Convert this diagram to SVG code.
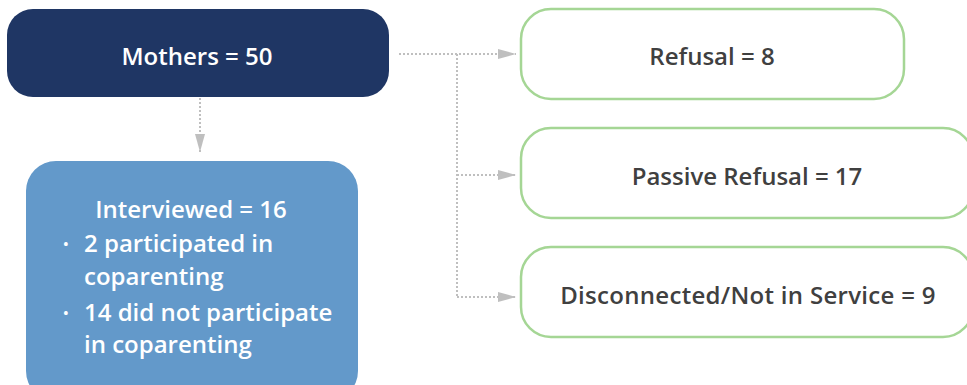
<svg xmlns="http://www.w3.org/2000/svg" width="967" height="385" viewBox="0 0 967 385">
<defs>
<style>
.t{font-family:"Open Sans","Lato","Liberation Sans",sans-serif;font-weight:600;font-size:24px}
.b{font-family:"Open Sans","Liberation Sans",sans-serif;font-weight:600;font-size:15px}
.w{fill:#ffffff}
.g{fill:#404040}
.out{fill:#ffffff;stroke:#A5D695;stroke-width:2.5}
.con{fill:none;stroke:#BFBFBF;stroke-width:2;stroke-dasharray:2 2}
</style>
<marker id="ah" viewBox="0 0 18 10" refX="18" refY="5" markerWidth="18" markerHeight="10" markerUnits="userSpaceOnUse" orient="auto">
<path d="M0,0 L18,5 L0,10 Z" fill="#BFBFBF"/>
</marker>
</defs>
<g id="connectors">
<path class="con" d="M200,98 V152" marker-end="url(#ah)"/>
<path class="con" d="M399,54 H516" marker-end="url(#ah)"/>
<path class="con" d="M457,54 V297" />
<path class="con" d="M457,175 H516" marker-end="url(#ah)"/>
<path class="con" d="M457,297 H516" marker-end="url(#ah)"/>
</g>
<g id="mothers">
<rect x="7" y="9" width="382" height="88" rx="26" fill="#1F3664"/>
<text class="t w" x="197" y="65" text-anchor="middle">Mothers = 50</text>
</g>
<g id="interviewed">
<rect x="26" y="161" width="332" height="240" rx="30" fill="#6399CA"/>
<text class="t w" x="191" y="218" text-anchor="middle">Interviewed = 16</text>
<text class="b w" x="63" y="249">•</text>
<text class="t w" x="84" y="252">2 participated in</text>
<text class="t w" x="84" y="285">coparenting</text>
<text class="b w" x="63" y="318">•</text>
<text class="t w" x="84" y="321">14 did not participate</text>
<text class="t w" x="84" y="353">in coparenting</text>
</g>
<g id="refusal">
<rect class="out" x="521" y="9" width="383" height="90" rx="30"/>
<text class="t g" x="712" y="65" text-anchor="middle">Refusal = 8</text>
</g>
<g id="passive">
<rect class="out" x="521" y="128" width="452" height="90" rx="30"/>
<text class="t g" x="747" y="185" text-anchor="middle">Passive Refusal = 17</text>
</g>
<g id="disconnected">
<rect class="out" x="521" y="247" width="452" height="90" rx="30"/>
<text class="t g" x="748" y="304" text-anchor="middle" letter-spacing="0.3">Disconnected/Not in Service = 9</text>
</g>
</svg>
